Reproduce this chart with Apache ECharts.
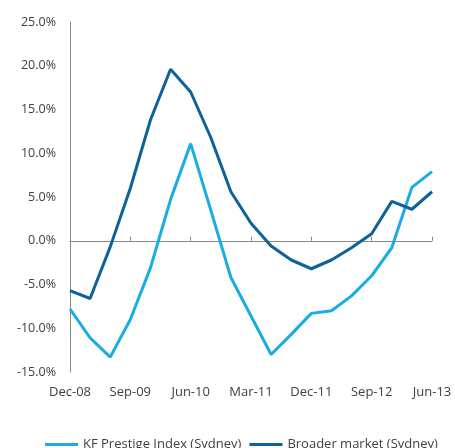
<!DOCTYPE html>
<html>
<head>
<meta charset="utf-8">
<script src="https://cdn.jsdelivr.net/npm/echarts@6/dist/echarts.min.js"></script>
<style>html,body{margin:0;padding:0;background:#fff;}#c{width:455px;height:448px;}</style>
</head>
<body>
<div id="c"></div>
<script>
const categories = ['Dec-08','Mar-09','Jun-09','Sep-09','Dec-09','Mar-10','Jun-10','Sep-10','Dec-10','Mar-11','Jun-11','Sep-11','Dec-11','Mar-12','Jun-12','Sep-12','Dec-12','Mar-13','Jun-13'];
const prestige = [-7.8,-11.1,-13.3,-9.0,-3.1,4.7,11.1,3.5,-4.2,-8.6,-13.0,-10.7,-8.3,-8.0,-6.3,-4.0,-0.8,6.1,7.9];
const broader = [-5.7,-6.6,-0.7,6.0,13.8,19.6,17.0,11.8,5.6,2.0,-0.6,-2.2,-3.2,-2.2,-0.8,0.8,4.5,3.6,5.6];
const seriesNames = ['KF Prestige Index (Sydney)','Broader market (Sydney)'];
const colors = ['#1AADE3','#0E6298'];
const font = '"Open Sans", sans-serif';
const chart = echarts.init(document.getElementById('c'));
chart.setOption({
  animation:false,
  grid:{left:70,right:23,top:22,bottom:76},
  legend:{
    left:40, top:433, itemWidth:33, itemHeight:3, itemGap:8, icon:'rect',
    textStyle:{fontFamily:font,fontSize:13,color:'#404040'},
    data:seriesNames
  },
  xAxis:[{
    type:'category', data:categories, boundaryGap:false,
    axisLine:{show:false,onZero:false}, axisTick:{show:false},
    axisLabel:{interval:2,margin:14,fontFamily:font,fontSize:13,color:'#404040'}
  },{
    type:'category', data:categories, boundaryGap:false, position:'bottom',
    axisLine:{show:true,onZero:true,lineStyle:{color:'#878787',width:1}},
    axisTick:{show:true,inside:true,interval:2,length:4,lineStyle:{color:'#878787'}},
    axisLabel:{show:false}
  }],
  yAxis:{
    type:'value', min:-15, max:25, interval:5,
    axisLine:{show:true,lineStyle:{color:'#878787',width:1}},
    axisTick:{show:false}, splitLine:{show:false},
    axisLabel:{margin:14,fontFamily:font,fontSize:12.5,color:'#404040',formatter:v=>v.toFixed(1)+'%'}
  },
  series:[
    {name:seriesNames[0],type:'line',data:prestige,symbol:'none',lineStyle:{width:3,color:colors[0]},itemStyle:{color:colors[0]}},
    {name:seriesNames[1],type:'line',data:broader,symbol:'none',lineStyle:{width:3,color:colors[1]},itemStyle:{color:colors[1]}}
  ]
});
</script>
</body>
</html>
